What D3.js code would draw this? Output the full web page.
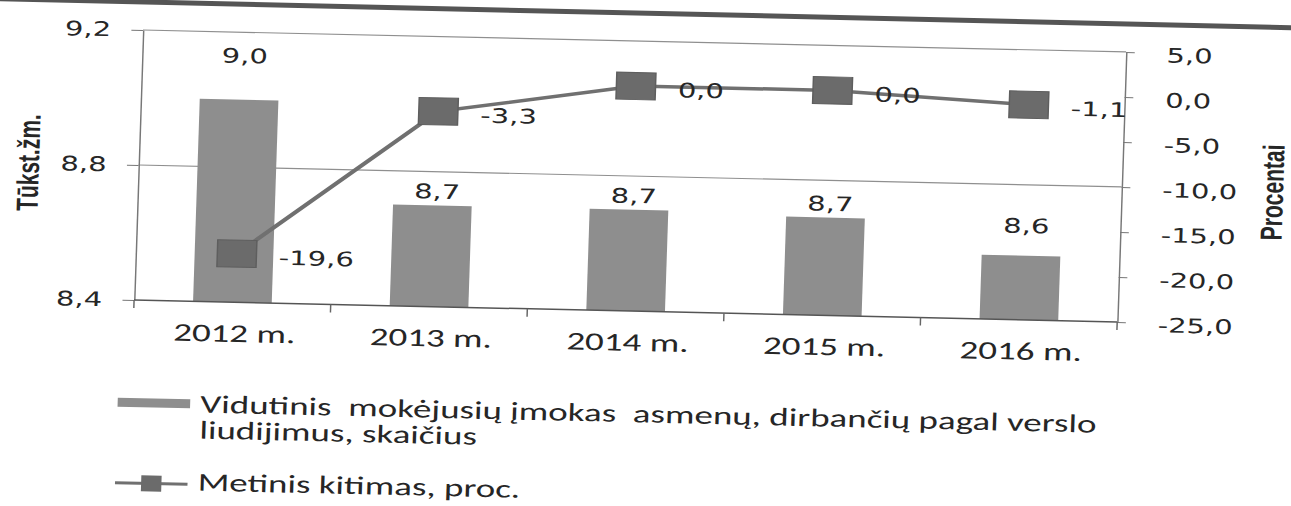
<!DOCTYPE html>
<html>
<head>
<meta charset="utf-8" />
<script src="https://cdn.jsdelivr.net/npm/d3@7"></script>
<style>
  body { margin: 0; background: #fff; }
  text { fill: #262626; }
  .num { font-family: "DejaVu Sans", Verdana, sans-serif; font-size: 20px; }
  .cal { font-family: Carlito, "Open Sans", sans-serif; font-size: 25.5px; white-space: pre; }
  .title { font-family: "Liberation Sans", Arial, sans-serif; font-weight: bold; font-size: 21px; }
</style>
</head>
<body>
<svg id="chart" width="1291" height="506"></svg>
<script>
  // data
  var years = ["2012 m.", "2013 m.", "2014 m.", "2015 m.", "2016 m."];
  var persons = [9.0, 8.70, 8.70, 8.69, 8.59];      // tūkst. žm.
  var change = [-19.6, -3.3, 0.0, 0.0, -1.1];        // proc.
  var leftTicks = [8.4, 8.8, 9.2];
  var rightTicks = [-25, -20, -15, -10, -5, 0, 5];
  var leftTitle = "Tūkst.žm.";
  var rightTitle = "Procentai";
  var legendBar = ["Vidutinis  mokėjusių įmokas  asmenų, dirbančių pagal verslo", "liudijimus, skaičius"];
  var legendLine = "Metinis kitimas, proc.";

  var W = 678, H = 270;
  var barColor = "#8e8e8e", markColor = "#6b6b6b", lineColor = "#707070";

  var lt = d3.formatLocale({decimal: ",", thousands: " ", grouping: [3], currency: ["", ""], minus: "-"});
  var fmt = lt.format(".1f");

  var svg = d3.select("#chart");
  // the scan is a little rotated and stretched sideways, so the whole chart gets the same skew
  var g = svg.append("g").attr("transform", "matrix(1.45,0.0324,-0.033,1,143,30)");

  var x = d3.scaleBand().domain(years).range([0, W]).paddingInner(0.6).paddingOuter(0.3);
  var yL = d3.scaleLinear().domain([8.4, 9.2]).range([H, 0]);
  var yR = d3.scaleLinear().domain([-25, 5]).range([H, 0]);
  var bw = x.bandwidth();
  var cx = function(d) { return x(d) + bw / 2; };

  // page rule above the chart
  g.append("line").attr("x1", -100).attr("x2", 800).attr("y1", -28).attr("y2", -28)
    .attr("stroke", "#555").attr("stroke-width", 5);

  // gridlines
  g.selectAll(".grid").data(leftTicks.slice(1)).enter().append("line")
    .attr("x1", 0).attr("x2", W)
    .attr("y1", function(d) { return yL(d); }).attr("y2", function(d) { return yL(d); })
    .attr("stroke", "#8f8f8f").attr("stroke-width", 1.2);

  // left axis
  var la = g.append("g")
    .call(d3.axisLeft(yL).tickValues(leftTicks).tickSize(8).tickSizeOuter(0).tickPadding(14).tickFormat(fmt));
  la.select(".domain").attr("stroke", "#777");
  la.selectAll(".tick line").attr("stroke", "#777");
  la.selectAll("text").attr("class", "num").attr("font-family", null).attr("font-size", null);

  // right axis
  var ra = g.append("g").attr("transform", "translate(" + W + ",0)")
    .call(d3.axisRight(yR).tickValues(rightTicks).tickSize(6).tickSizeOuter(0).tickPadding(22).tickFormat(fmt));
  ra.select(".domain").attr("stroke", "#777");
  ra.selectAll(".tick line").attr("stroke", "#777");
  ra.selectAll("text").attr("class", "num").attr("font-family", null).attr("font-size", null).attr("dy", "0.45em");

  // bars
  g.selectAll(".bar").data(persons).enter().append("rect")
    .attr("x", function(d, i) { return x(years[i]); })
    .attr("y", function(d) { return yL(d); })
    .attr("width", bw)
    .attr("height", function(d) { return H - yL(d); })
    .attr("fill", barColor);

  // bottom axis + ticks between categories
  g.append("line").attr("x1", 0).attr("x2", W).attr("y1", H).attr("y2", H)
    .attr("stroke", "#555").attr("stroke-width", 1.5);
  var edges = years.map(function(d) { return x(d) - (x.step() - bw) / 2; }).concat([W]);
  g.selectAll(".xt").data(edges).enter().append("line")
    .attr("x1", function(d) { return d; }).attr("x2", function(d) { return d; })
    .attr("y1", H).attr("y2", H + 8).attr("stroke", "#666");
  g.selectAll(".cat").data(years).enter().append("text")
    .attr("class", "cal").attr("text-anchor", "middle")
    .attr("x", function(d) { return cx(d) + 2; }).attr("y", H + 31).attr("dy", "0.34em")
    .text(function(d) { return d; });

  // bar labels (first and last were dragged higher in the original)
  var lift = {"2012 m.": 30, "2016 m.": 16};
  g.selectAll(".bl").data(persons).enter().append("text")
    .attr("class", "num").attr("text-anchor", "middle")
    .attr("x", function(d, i) { return cx(years[i]) + 3; })
    .attr("y", function(d, i) { return yL(d) - 14 - (lift[years[i]] || 0); })
    .attr("dy", "0.36em")
    .text(function(d) { return fmt(d); });

  // line + markers
  var line = d3.line()
    .x(function(d, i) { return cx(years[i]) + 2; })
    .y(function(d) { return yR(d); });
  g.append("path").datum(change).attr("d", line)
    .attr("fill", "none").attr("stroke", lineColor).attr("stroke-width", 3.5);
  g.selectAll(".mk").data(change).enter().append("rect")
    .attr("x", function(d, i) { return cx(years[i]) + 2 - 13.5; })
    .attr("y", function(d) { return yR(d) - 13.5; })
    .attr("width", 27).attr("height", 27)
    .attr("fill", markColor).attr("stroke", "#5e5e5e");
  g.selectAll(".ll").data(change).enter().append("text")
    .attr("class", "num")
    .attr("x", function(d, i) { return cx(years[i]) + 31; })
    .attr("y", function(d) { return yR(d) + 3; })
    .attr("dy", "0.36em")
    .text(function(d) { return fmt(d); });

  // axis titles
  g.append("text").attr("class", "title").attr("text-anchor", "middle")
    .attr("transform", "translate(-76,135) rotate(-90)").attr("dy", "0.35em").text(leftTitle);
  g.append("text").attr("class", "title").attr("text-anchor", "middle")
    .attr("transform", "translate(782,137) rotate(-90)").attr("dy", "0.35em").text(rightTitle);

  // legend
  g.append("rect").attr("x", -9).attr("y", 368).attr("width", 50).attr("height", 9).attr("fill", barColor);
  g.selectAll(".lg").data(legendBar).enter().append("text")
    .attr("class", "cal").attr("x", 48)
    .attr("y", function(d, i) { return 381 + i * 26; })
    .text(function(d) { return d; });
  g.append("line").attr("x1", -9).attr("x2", 41).attr("y1", 453).attr("y2", 453)
    .attr("stroke", lineColor).attr("stroke-width", 3);
  g.append("rect").attr("x", 9).attr("y", 445).attr("width", 14).attr("height", 16)
    .attr("fill", markColor);
  g.append("text").attr("class", "cal").attr("x", 48).attr("y", 459).text(legendLine);
</script>
</body>
</html>
